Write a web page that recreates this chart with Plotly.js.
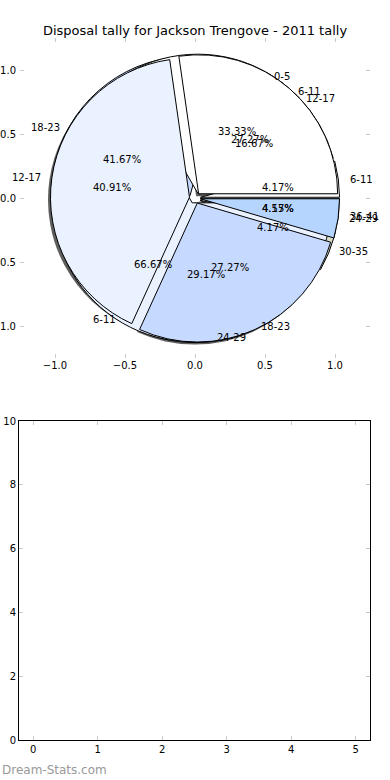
<!DOCTYPE html>
<html>
<head>
<meta charset="utf-8">
<script src="https://cdn.plot.ly/plotly-3.0.1.min.js"></script>
<style>html,body{margin:0;padding:0;background:#fff;}#chart{width:390px;height:780px;}</style>
</head>
<body>
<div id="chart"></div>
<script>
// ---- data ----
var pie1Labels = ['0-5', '6-11'];
var pie1Values = [1, 2];
var pie2Labels = ['6-11', '12-17', '18-23', '24-29', '30-35', '36-41'];
var pie2Values = [1, 4, 10, 7, 1, 1];
var pie3Labels = ['6-11', '12-17', '18-23', '24-29'];
var pie3Values = [6, 9, 6, 1];
var sliceColors = ['#ffffff', '#eaf1ff', '#c6d9ff', '#b5d5ff', '#d6dcc6', '#ffffff'];
var titleText = 'Disposal tally for Jackson Trengove - 2011 tally';
var pieTicks = [-1.0, -0.5, 0.0, 0.5, 1.0];
var lowerXTicks = [0, 1, 2, 3, 4, 5];
var lowerYTicks = [0, 2, 4, 6, 8, 10];

// ---- layout geometry (pixels) ----
var W = 390, H = 780;
var topAx = {l: 20, r: 370, t: 38, b: 358};
var botAx = {l: 19, r: 370, t: 421, b: 740};
var PULL = 0.04;
var cx = (topAx.l + topAx.r) / 2, cy = (topAx.t + topAx.b) / 2;
var pieR = 139;
var half = pieR * (1 + PULL);
function domainAt(dx, dy) {
  return {x: [(cx + dx - half) / W, (cx + dx + half) / W],
          y: [1 - (cy + dy + half) / H, 1 - (cy + dy - half) / H]};
}
var pieDomain = domainAt(0, 0);
var shadowDomain = domainAt(-2.5, 2.5);

var FONT = 'DejaVu Sans, sans-serif';

function sum(a) { return a.reduce(function (s, b) { return s + b; }, 0); }

function pieTrace(labels, values, shadow) {
  // first wedge starts at 3 o'clock and wedges run counter-clockwise (matplotlib default)
  var firstAngle = 360 * values[0] / sum(values);
  return {
    type: 'pie', labels: labels, values: values, sort: false,
    direction: 'counterclockwise', rotation: 90 - firstAngle,
    marker: shadow
      ? {colors: values.map(function () { return 'rgba(40,40,40,0.75)'; }), line: {color: 'rgba(0,0,0,0)', width: 0}}
      : {colors: sliceColors.slice(0, values.length), line: {color: '#000', width: 1}},
    pull: values.map(function () { return PULL; }),
    textinfo: 'none', hoverinfo: shadow ? 'skip' : 'label+percent', showlegend: false,
    domain: shadow ? shadowDomain : pieDomain
  };
}

// text positions computed from the data (matplotlib-style: labels at 1.1 r, pct at 0.6 r)
var annotations = [];
[[pie1Labels, pie1Values], [pie2Labels, pie2Values], [pie3Labels, pie3Values]].forEach(function (p) {
  var labels = p[0], values = p[1];
  var total = sum(values);
  var cum = 0;
  values.forEach(function (v, i) {
    var mid = (cum + v / 2) / total * 2 * Math.PI;
    cum += v;
    var c = Math.cos(mid), s = Math.sin(mid);
    annotations.push({
      xref: 'x', yref: 'y', x: 1.1 * c, y: 1.1 * s, text: labels[i], showarrow: false,
      xanchor: c >= 0 ? 'left' : 'right', yanchor: 'middle',
      font: {family: FONT, size: 10, color: '#000'}
    });
    annotations.push({
      xref: 'x', yref: 'y', x: 0.6 * c, y: 0.6 * s, text: (v / total * 100).toFixed(2) + '%',
      showarrow: false, xanchor: 'center', yanchor: 'middle',
      font: {family: FONT, size: 10, color: '#000'}
    });
  });
});
annotations.push({
  text: 'Dream-Stats.com', xref: 'paper', yref: 'paper', x: 0, y: 1 - 770 / H,
  xanchor: 'left', yanchor: 'middle', showarrow: false,
  font: {family: FONT, size: 12, color: '#999999'}
});

var traces = [
  pieTrace(pie3Labels, pie3Values, true),
  pieTrace(pie2Labels, pie2Values),
  pieTrace(pie1Labels, pie1Values),
  pieTrace(pie3Labels, pie3Values),
  {type: 'scatter', mode: 'markers', x: [], y: [], xaxis: 'x', yaxis: 'y', showlegend: false},
  {type: 'scatter', mode: 'markers', x: [], y: [], xaxis: 'x2', yaxis: 'y2', showlegend: false}
];

var tickCommon = {
  showgrid: false, zeroline: false, ticks: 'inside', ticklen: 4, tickwidth: 1,
  tickcolor: '#c8c8c8', tickfont: {family: FONT, size: 10, color: '#000'}, fixedrange: true
};

var layout = {
  width: W, height: H,
  margin: {l: 0, r: 0, t: 0, b: 0, pad: 0},
  paper_bgcolor: '#fff', plot_bgcolor: 'rgba(0,0,0,0)',
  showlegend: false,
  title: {text: titleText, x: 0.5, xanchor: 'center', xref: 'paper', y: 1 - 30 / H, yanchor: 'middle',
          yref: 'paper', font: {family: FONT, size: 13, color: '#000'}},
  xaxis: Object.assign({}, tickCommon, {
    domain: [topAx.l / W, topAx.r / W], range: [-1.25, 1.25], anchor: 'y',
    tickvals: pieTicks, tickformat: '.1f', showline: false, mirror: 'ticks'
  }),
  yaxis: Object.assign({}, tickCommon, {
    domain: [1 - topAx.b / H, 1 - topAx.t / H], range: [-1.25, 1.25], anchor: 'x',
    tickvals: pieTicks, tickformat: '.1f', showline: false, mirror: 'ticks', ticklabelstandoff: 3
  }),
  xaxis2: Object.assign({}, tickCommon, {
    domain: [botAx.l / W, botAx.r / W], range: [-0.22, 5.22], anchor: 'y2',
    tickvals: lowerXTicks, showline: true, linecolor: '#000', linewidth: 1, mirror: 'ticks'
  }),
  yaxis2: Object.assign({}, tickCommon, {
    domain: [1 - botAx.b / H, 1 - botAx.t / H], range: [0, 10], anchor: 'x2',
    tickvals: lowerYTicks, showline: true, linecolor: '#000', linewidth: 1, mirror: 'ticks'
  }),
  annotations: annotations
};

Plotly.newPlot('chart', traces, layout, {displayModeBar: false, staticPlot: true});
</script>
</body>
</html>
